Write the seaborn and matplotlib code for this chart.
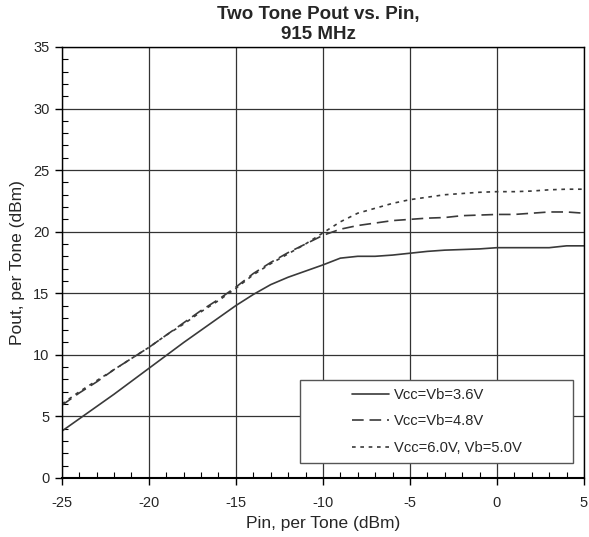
import numpy as np
import pandas as pd
import matplotlib.pyplot as plt
import matplotlib.patches as mpatches
import seaborn as sns

# Daten
pin = list(range(-25, 6))
pout_36 = [3.8, 4.8, 5.8, 6.8, 7.85, 8.9, 9.95, 11.0, 12.0, 13.0, 14.0, 14.9, 15.7, 16.3, 16.8,
           17.3, 17.85, 18.0, 18.0, 18.1, 18.25, 18.4, 18.5, 18.55, 18.6, 18.7, 18.7, 18.7, 18.7,
           18.85, 18.85]
pout_48 = [5.9, 6.9, 7.8, 8.8, 9.7, 10.6, 11.6, 12.6, 13.6, 14.5, 15.5, 16.6, 17.5, 18.3, 19.0,
           19.7, 20.2, 20.5, 20.7, 20.9, 21.0, 21.1, 21.15, 21.3, 21.35, 21.4, 21.4, 21.5, 21.6,
           21.6, 21.5]
pout_60 = [6.0, 7.0, 7.9, 8.8, 9.7, 10.6, 11.6, 12.5, 13.5, 14.4, 15.4, 16.5, 17.4, 18.2, 19.0,
           19.9, 20.8, 21.5, 21.9, 22.3, 22.6, 22.8, 23.0, 23.1, 23.2, 23.25, 23.25, 23.3, 23.4,
           23.45, 23.45]
series_names = ["Vcc=Vb=3.6V", "Vcc=Vb=4.8V", "Vcc=6.0V, Vb=5.0V"]

df = pd.concat([
    pd.DataFrame({"Pin": pin, "Pout": pout_36, "Serie": series_names[0]}),
    pd.DataFrame({"Pin": pin, "Pout": pout_48, "Serie": series_names[1]}),
    pd.DataFrame({"Pin": pin, "Pout": pout_60, "Serie": series_names[2]}),
])

sns.set_style("white")
plt.rcParams['font.family'] = ['Liberation Sans', 'DejaVu Sans']
plt.rcParams['axes.unicode_minus'] = False

fig = plt.figure(figsize=(5.89, 5.37), dpi=100)
ax = fig.add_axes([0.105, 0.11, 0.8865, 0.8025])

sns.lineplot(data=df, x="Pin", y="Pout", style="Serie", hue="Serie",
             palette=["#3a3a3a"] * 3,
             dashes={series_names[0]: "", series_names[1]: (7, 3.5), series_names[2]: (2.2, 2.8)},
             linewidth=1.2, ax=ax)

ax.set_xlim(-25, 5)
ax.set_ylim(0, 35)
ax.set_xticks(range(-25, 6, 5))
ax.set_yticks(range(0, 36, 5))
ax.set_xticks(range(-25, 6), minor=True)
ax.set_yticks(range(0, 36), minor=True)
ax.tick_params(which="major", direction="out", length=5, width=1, color="black", labelsize=10.5)
ax.tick_params(which="minor", direction="in", length=4, width=0.8, color="black")
ax.tick_params(axis="x", which="both", bottom=True)
ax.tick_params(axis="x", which="major", pad=8)
ax.tick_params(axis="y", which="both", left=True)
ax.tick_params(axis="y", which="major", pad=4)
ax.grid(True, which="major", color="#333333", linewidth=0.9)
for s in ax.spines.values():
    s.set_color("black")
    s.set_linewidth(1.0)
ax.spines["bottom"].set_linewidth(1.5)

ax.set_xlabel("Pin, per Tone (dBm)", fontsize=12.5, labelpad=4)
ax.set_ylabel("Pout, per Tone (dBm)", fontsize=12.5, labelpad=6)
fig.text(0.54, 0.955, "Two Tone Pout vs. Pin,\n915 MHz", fontweight="bold", fontsize=13.5,
         linespacing=1.25, ha="center", va="center")

# Legendenrahmen (breiter als der Inhalt)
box = mpatches.Rectangle((0.456, 0.035), 0.523, 0.192, transform=ax.transAxes,
                         facecolor="white", edgecolor="#555555", linewidth=1.0, zorder=3)
ax.add_patch(box)
leg = ax.legend(loc="center", bbox_to_anchor=(0.718, 0.131), fontsize=10.6, frameon=False,
                handlelength=2.5, labelspacing=0.85, handletextpad=0.35, borderaxespad=0)
leg.set_zorder(5)

fig.savefig("out.png", dpi=100)
